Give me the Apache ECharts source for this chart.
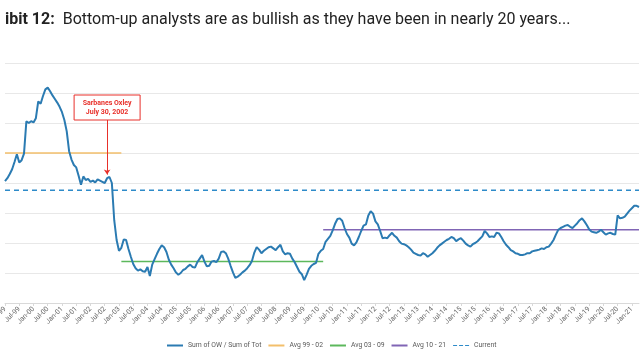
<!DOCTYPE html>
<html>
<head>
<meta charset="utf-8">
<script src="https://cdn.jsdelivr.net/npm/echarts@6/dist/echarts.min.js"></script>
<style>html,body{margin:0;padding:0;background:#fff}#c{width:640px;height:360px}</style>
</head>
<body>
<div id="c"></div>
<script>
// Month categories Jan-99 .. Apr-21
const monthNames = ['Jan','Feb','Mar','Apr','May','Jun','Jul','Aug','Sep','Oct','Nov','Dec'];
const categories = [];
for (let y = 1999; y <= 2021; y++) {
  for (let m = 0; m < 12; m++) {
    if (y === 2021 && m > 3) break;
    categories.push(monthNames[m] + '-' + String(y % 100).padStart(2, '0'));
  }
}

// Sum of OW / Sum of Tot (monthly)
const owShare = [
60.3,60.8,61.5,62.3,63.5,64.8,63.4,63.8,64.9,70.3,70.0,70.3,
70.1,70.8,73.6,73.2,74.5,75.6,75.9,75.3,74.6,74.0,73.4,72.7,
71.8,70.5,68.6,65.3,63.9,63.0,62.6,61.2,59.7,61.1,60.5,60.7,
60.2,60.4,60.1,60.6,60.4,60.2,60.0,60.8,61.0,60.0,53.8,50.5,
48.7,49.2,50.6,50.5,49.0,47.7,46.5,45.8,45.4,45.6,45.3,45.2,
46.0,44.5,46.4,47.3,48.2,49.0,49.6,49.3,48.5,47.2,46.4,45.8,
45.1,44.7,45.0,45.5,45.7,46.1,46.4,46.0,45.9,46.8,47.4,48.0,
46.9,46.1,46.2,46.9,47.0,46.8,47.4,48.5,48.6,48.3,47.4,46.2,
45.1,44.2,44.4,44.7,45.1,45.4,45.8,46.3,47.0,48.4,49.3,48.9,
48.3,48.7,49.0,49.3,49.4,49.1,48.8,49.3,49.7,48.6,48.1,48.3,
48.2,47.4,46.8,46.0,45.2,44.8,43.8,44.7,45.7,46.2,46.5,46.7,
48.2,48.7,49.0,50.2,50.7,51.2,52.1,53.2,54.0,54.1,53.7,52.5,
51.5,50.9,49.9,49.6,50.1,51.0,52.0,52.9,53.1,54.6,55.3,54.9,
53.6,53.1,52.0,50.8,50.9,50.8,51.3,51.7,51.2,50.9,50.3,49.9,
49.8,49.6,49.3,48.9,48.4,48.2,48.0,47.9,48.3,48.1,47.7,48.0,
48.3,48.7,49.2,49.6,49.9,50.2,50.5,50.7,51.0,50.8,50.3,50.6,
50.8,50.4,49.9,49.6,49.4,49.8,50.0,50.3,50.7,51.1,52.0,51.6,
51.0,51.1,51.0,51.7,51.6,51.0,50.3,49.7,49.3,48.8,48.6,48.3,
48.2,48.0,48.0,48.1,48.3,48.3,48.6,48.7,48.8,48.9,49.1,49.0,
49.3,49.4,49.9,50.5,51.4,52.2,52.5,52.7,52.9,53.0,52.7,52.5,
52.9,53.3,53.8,54.1,53.6,53.0,52.3,51.9,51.8,51.7,51.9,52.2,
51.8,51.4,51.6,51.7,51.5,51.4,54.6,54.1,54.2,54.4,54.9,55.4,
55.8,56.2,56.2,56.0
];

// Period averages: [start, end, value]
const avg9902 = ['Jan-99', 'Feb-03', 65.0];
const avg0309 = ['Feb-03', 'Mar-10', 46.9];
const avg1021 = ['Mar-10', 'Apr-21', 52.2];
const current = ['Jan-99', 'Apr-21', 58.8];

const annotationAt = 'Aug-02';
const annotationText = ['Sarbanes Oxley', 'July 30, 2002'];

function seg(a) { return [[a[0], a[2]], [a[1], a[2]]]; }

const chart = echarts.init(document.getElementById('c'));
const FONT = 'Roboto, "Liberation Sans", sans-serif';
const dashIcon = 'path://M0,0h4v1h-4z M6,0h4v1h-4z M12,0h4v1h-4z';
const option = {
  animation: false,
  backgroundColor: '#fff',
  textStyle: { fontFamily: FONT },
  title: {
    left: 0, top: 7,
    text: '{b|ibit 12:}{r|  Bottom-up analysts are as bullish as they have been in nearly 20 years...}',
    textStyle: {
      fontWeight: 'normal',
      rich: {
        b: { fontFamily: FONT, fontSize: 16, fontWeight: 'bold', color: '#222' },
        r: { fontFamily: FONT, fontSize: 16, fontWeight: 'normal', color: '#222' }
      }
    }
  },
  grid: { left: 5, right: 1, top: 63, bottom: 57, outerBoundsMode: 'none', containLabel: false },
  legend: {
    left: 162, top: 337,
    itemWidth: 16, itemHeight: 2, itemGap: 7,
    textStyle: { fontSize: 6.8, color: '#595959' },
    data: [
      { name: 'Sum of OW / Sum of Tot', icon: 'rect' },
      { name: 'Avg 99 - 02', icon: 'rect' },
      { name: 'Avg 03 - 09', icon: 'rect' },
      { name: 'Avg 10 - 21', icon: 'rect' },
      { name: 'Current', icon: dashIcon, itemStyle: { color: '#2e8bc9' } }
    ]
  },
  xAxis: {
    type: 'category', data: categories, boundaryGap: false,
    axisLine: { lineStyle: { color: '#d9d9d9' } },
    axisTick: { show: true, interval: 5, length: 3, lineStyle: { color: '#d9d9d9' } },
    axisLabel: { interval: 5, rotate: 45, fontSize: 7, color: '#666', margin: 5 }
  },
  yAxis: {
    type: 'value', min: 40, max: 80, interval: 5,
    axisLabel: { show: false },
    axisLine: { show: false }, axisTick: { show: false },
    splitLine: { lineStyle: { color: '#e8e8e8' } }
  },
  series: [
    {
      name: 'Sum of OW / Sum of Tot', type: 'line', data: owShare,
      showSymbol: false, symbol: 'none', z: 5,
      lineStyle: { color: '#2b7bb2', width: 2 }, itemStyle: { color: '#2b7bb2' },
      markLine: {
        silent: true, symbol: ['none', 'arrow'], symbolSize: 5,
        label: { show: false },
        lineStyle: { color: '#e8302a', width: 1, type: 'solid' },
        data: [[{ coord: [annotationAt, 70.5] }, { coord: [annotationAt, 61.4] }]]
      }
    },
    {
      name: 'Avg 99 - 02', type: 'line', data: seg(avg9902), symbol: 'none',
      lineStyle: { color: '#f3bf6b', width: 1.5 }, itemStyle: { color: '#f3bf6b' }
    },
    {
      name: 'Avg 03 - 09', type: 'line', data: seg(avg0309), symbol: 'none',
      lineStyle: { color: '#5cb85c', width: 1.5 }, itemStyle: { color: '#5cb85c' }
    },
    {
      name: 'Avg 10 - 21', type: 'line', data: seg(avg1021), symbol: 'none',
      lineStyle: { color: '#8065b5', width: 1.5 }, itemStyle: { color: '#8065b5' }
    },
    {
      name: 'Current', type: 'line', data: seg(current), symbol: 'none',
      lineStyle: { color: '#2e8bc9', width: 1.5, type: [5, 4] }, itemStyle: { color: '#2e8bc9' }
    }
  ]
};
chart.setOption(option);

const px = chart.convertToPixel({ xAxisIndex: 0, yAxisIndex: 0 }, [annotationAt, 70.5]);
const bw = 66, bh = 25;
chart.setOption({
  graphic: [{
    type: 'rect', z: 100,
    shape: { x: px[0] - bw / 2, y: px[1] - bh, width: bw, height: bh },
    style: { fill: '#fff', stroke: '#e8302a', lineWidth: 1 }
  }, {
    type: 'text', z: 101,
    x: px[0], y: px[1] - bh / 2,
    style: {
      text: annotationText.join('\n'), fill: '#e8302a',
      font: 'bold 7px ' + FONT, align: 'center', verticalAlign: 'middle', lineHeight: 9
    }
  }]
});
</script>
</body>
</html>
